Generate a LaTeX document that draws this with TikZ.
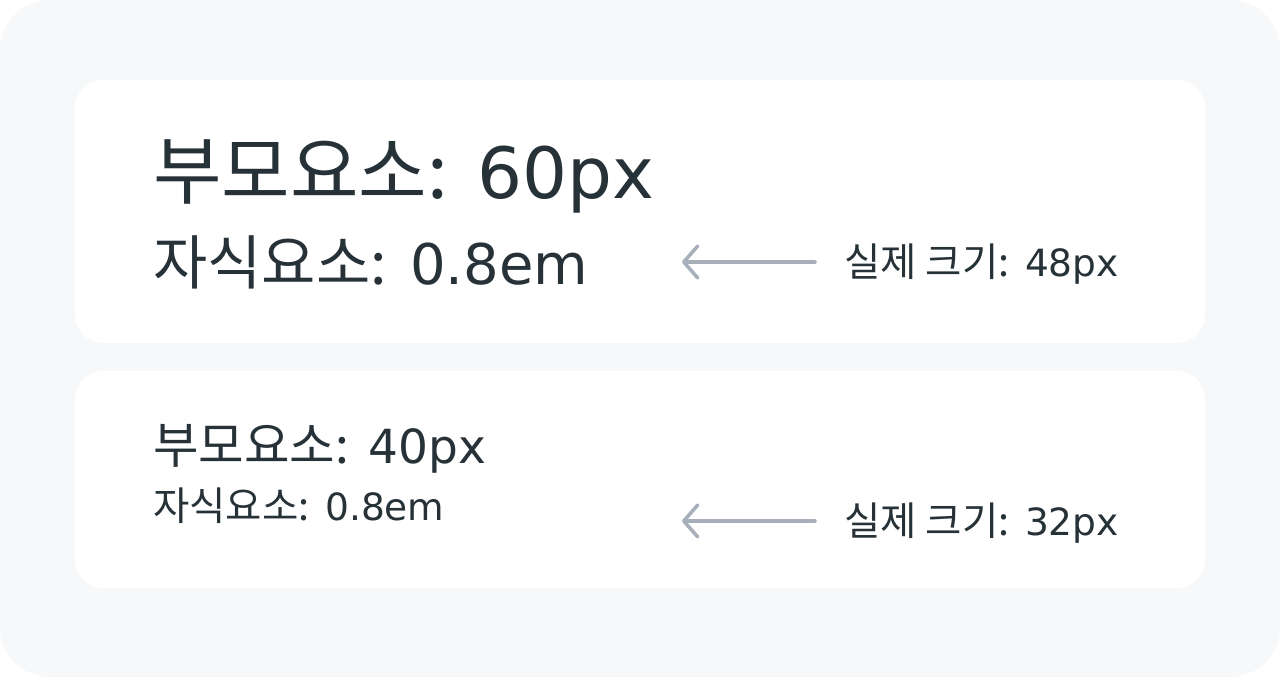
\documentclass[tikz,border=0pt]{standalone}
\usepackage{fontspec}
\setmainfont{Noto Sans CJK KR}
\newfontfamily\lat[Scale=0.95]{DejaVu Sans}
\newcommand\latpart[1]{{\lat\hspace{0.1em}\ #1}}
\usetikzlibrary{arrows.meta}
\definecolor{bgc}{HTML}{F7F8FA}
\definecolor{txt}{HTML}{263238}
\definecolor{arr}{HTML}{A7AFBA}
\tikzset{
  card/.style={fill=white, rounded corners=28pt, draw=none},
  lbl/.style={anchor=base west, inner sep=0pt, text=txt},
  pointer/.style={draw=arr, line width=3.5pt, line cap=round,
    -{Straight Barb[length=14pt,width=32pt,round]}},
}
\begin{document}
\begin{tikzpicture}[x=1pt,y=-1pt]
\fill[white] (0,0) rectangle (1280,677);
\useasboundingbox (0,0) rectangle (1280,677);
\fill[bgc, rounded corners=50pt] (0,0) rectangle (1280,677);
\path[card] (75,80) rectangle (1205,343);
\path[card] (75,371) rectangle (1205,588);
% card 1
\node[lbl, font=\fontsize{74.5}{80}\selectfont] (p1) at (153,198) {부모요소:\latpart{60px}};
\node[lbl, font=\fontsize{59}{64}\selectfont] (c1) at (153,284) {자식요소:\latpart{0.8em}};
\node[lbl, font=\fontsize{39.5}{44}\selectfont] (r1) at (844,276) {실제 크기:\latpart{48px}};
\coordinate (a1s) at (815,262);
\coordinate (a1e) at (682,262);
\draw[pointer] (a1s) -- (a1e);
% card 2
\node[lbl, font=\fontsize{49.5}{56}\selectfont] (p2) at (153,463) {부모요소:\latpart{40px}};
\node[lbl, font=\fontsize{39.5}{44}\selectfont] (c2) at (153,520) {자식요소:\latpart{0.8em}};
\node[lbl, font=\fontsize{39.5}{44}\selectfont] (r2) at (844,535) {실제 크기:\latpart{32px}};
\coordinate (a2s) at (815,521);
\coordinate (a2e) at (682,521);
\draw[pointer] (a2s) -- (a2e);
\end{tikzpicture}
\end{document}
